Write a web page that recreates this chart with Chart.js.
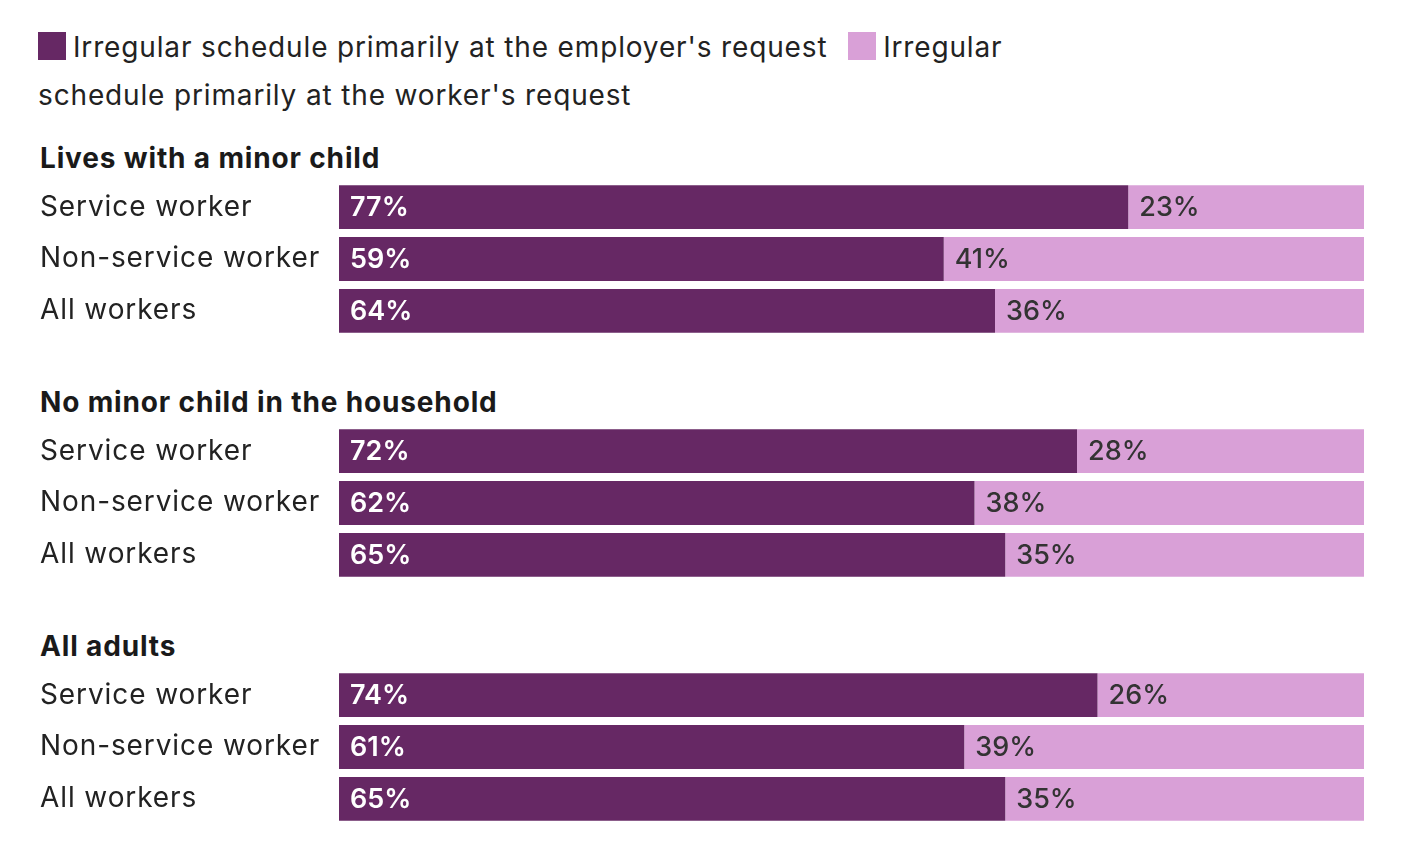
<!DOCTYPE html>
<html>
<head>
<meta charset="utf-8">
<script src="https://cdn.jsdelivr.net/npm/chart.js@4"></script>
<style>
  html, body { margin: 0; padding: 0; background: #ffffff; }
  body { width: 1406px; height: 848px; position: relative; overflow: hidden; font-family: Inter, "Noto Sans", sans-serif; }
  #legend { position: absolute; left: 38px; top: 23px; width: 1040px; font-size: 28px; line-height: 48px; color: #222222; letter-spacing: 0.85px; }
  #legend .item { margin-right: 12px; }
  #legend .sw { display: inline-block; width: 28px; height: 28px; vertical-align: -3px; margin-right: 7px; }
  .hdr { position: absolute; left: 40px; height: 48px; line-height: 48px; font-size: 28px; font-weight: 700; color: #1a1a1a; white-space: nowrap; letter-spacing: 0.85px; }
  .box { position: absolute; left: 40px; width: 1324px; height: 156px; }
</style>
</head>
<body>
<div id="legend"></div>
<div id="charts"></div>
<script>
const seriesNames = ["Irregular schedule primarily at the employer's request", "Irregular schedule primarily at the worker's request"];
const seriesColors = ['#662864', '#d9a0d7'];
const groups = ['Lives with a minor child', 'No minor child in the household', 'All adults'];
const categories = ['Service worker', 'Non-service worker', 'All workers'];
const employerRequest = [[77, 59, 64], [72, 62, 65], [74, 61, 65]];
const workerRequest = [[23, 41, 36], [28, 38, 35], [26, 39, 35]];

const groupHeaderCenters = [158, 402, 646];
const chartTops = [181, 425, 669];

// Legend (HTML so it wraps like the original)
const legend = document.getElementById('legend');
seriesNames.forEach((name, i) => {
  const item = document.createElement('span');
  item.className = 'item';
  const sw = document.createElement('span');
  sw.className = 'sw';
  sw.style.background = seriesColors[i];
  item.appendChild(sw);
  item.appendChild(document.createTextNode(name));
  legend.appendChild(item);
  legend.appendChild(document.createTextNode(' '));
});

const spacingPlugin = {
  id: 'tickSpacing',
  beforeLayout(chart) { chart.ctx.letterSpacing = '0.9px'; },
  beforeDraw(chart) { chart.ctx.letterSpacing = '0.9px'; }
};

const labelPlugin = {
  id: 'segLabels',
  afterDatasetsDraw(chart) {
    const ctx = chart.ctx;
    ctx.save();
    ctx.letterSpacing = '0px';
    ctx.textBaseline = 'middle';
    ctx.textAlign = 'left';
    chart.data.datasets.forEach((ds, di) => {
      const meta = chart.getDatasetMeta(di);
      meta.data.forEach((el, i) => {
        const p = el.getProps(['x', 'y', 'base'], true);
        const left = Math.min(p.x, p.base);
        ctx.font = (di === 0 ? '600 ' : '500 ') + '27px Inter, "Noto Sans", sans-serif';
        ctx.fillStyle = di === 0 ? '#ffffff' : '#333333';
        ctx.fillText(ds.data[i] + '%', left + 11, p.y + 1);
      });
    });
    ctx.restore();
  }
};

const chartsDiv = document.getElementById('charts');
groups.forEach((g, gi) => {
  const h = document.createElement('div');
  h.className = 'hdr';
  h.style.top = (groupHeaderCenters[gi] - 24) + 'px';
  h.textContent = g;
  chartsDiv.appendChild(h);

  const box = document.createElement('div');
  box.className = 'box';
  box.style.top = chartTops[gi] + 'px';
  const cv = document.createElement('canvas');
  box.appendChild(cv);
  chartsDiv.appendChild(box);

  new Chart(cv, {
    type: 'bar',
    data: {
      labels: categories,
      datasets: [
        { label: seriesNames[0], data: employerRequest[gi], backgroundColor: seriesColors[0], borderWidth: 0, barPercentage: 1, categoryPercentage: 44 / 52 },
        { label: seriesNames[1], data: workerRequest[gi], backgroundColor: seriesColors[1], borderWidth: 0, barPercentage: 1, categoryPercentage: 44 / 52 }
      ]
    },
    options: {
      indexAxis: 'y',
      responsive: true,
      maintainAspectRatio: false,
      animation: false,
      events: [],
      layout: { padding: 0 },
      plugins: { legend: { display: false }, tooltip: { enabled: false } },
      scales: {
        x: { stacked: true, min: 0, max: 100, display: false },
        y: {
          stacked: true,
          grid: { display: false, drawTicks: true, tickLength: 19 },
          border: { display: false },
          ticks: {
            autoSkip: false,
            crossAlign: 'far',
            padding: 0,
            color: '#222222',
            font: { family: 'Inter, "Noto Sans", sans-serif', size: 28, weight: 400, lineHeight: 0.01 }
          },
          afterFit(scale) { scale.width = 299; }
        }
      }
    },
    plugins: [spacingPlugin, labelPlugin]
  });
});
</script>
</body>
</html>
